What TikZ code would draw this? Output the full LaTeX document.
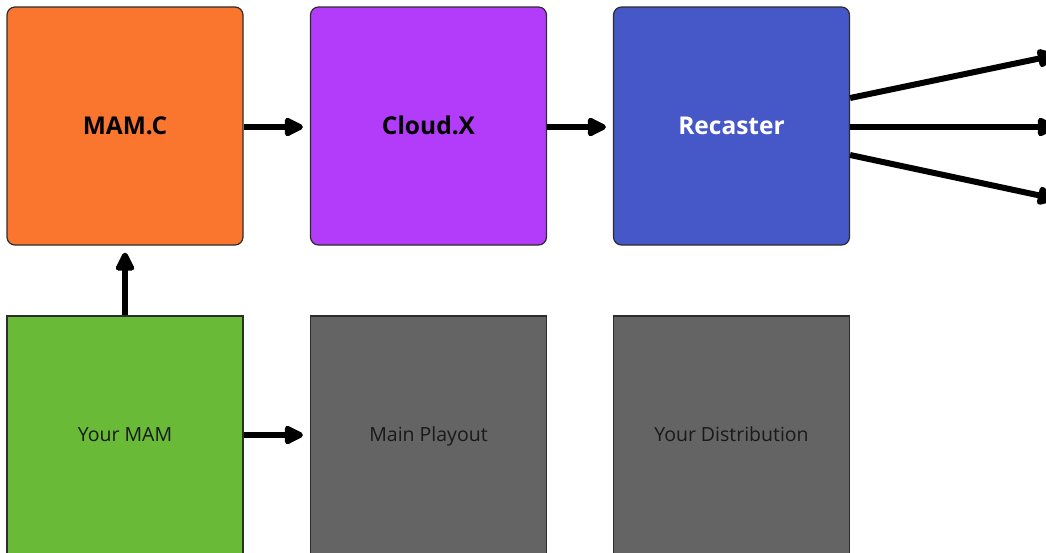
\documentclass[tikz,border=0pt]{standalone}
\usepackage{fontspec}
\setmainfont{Open Sans}
\usetikzlibrary{arrows.meta}
\definecolor{cOrange}{RGB}{250,118,46}
\definecolor{cPurple}{RGB}{178,60,250}
\definecolor{cBlue}{RGB}{70,87,200}
\definecolor{cGreen}{RGB}{105,187,55}
\definecolor{cGray}{RGB}{100,100,100}
\definecolor{cEdge}{RGB}{45,45,45}
\tikzset{
  box/.style={draw=cEdge, line width=1.2pt, minimum width=236pt, minimum height=238pt, inner sep=0pt, text depth=0pt},
  topbox/.style={box, rounded corners=8pt, font=\fontsize{24.5}{28}\selectfont\bfseries, text height=17.5pt},
  botbox/.style={box, font=\fontsize{19.5}{23}\selectfont, text=black!90, text height=13.9pt},
  arr/.style={line width=6pt, -{Triangle[length=22pt,width=20pt,round]}, shorten >=7pt},
  fan/.style={line width=6pt, -{Triangle[length=22pt,width=20pt,round]}}
}
\begin{document}
\begin{tikzpicture}[x=1pt,y=-1pt]
\useasboundingbox (0,0) rectangle (1046,552);
\clip (0,0) rectangle (1046,552);
\fill[white] (0,0) rectangle (1046,552);
\node[topbox, fill=cOrange] (mamc) at (125,126) {MAM.C};
\node[topbox, fill=cPurple] (cloudx) at (428.5,126) {Cloud.X};
\node[topbox, fill=cBlue, text=white] (recaster) at (731.5,126) {Recaster};
\node[botbox, fill=cGreen] (yourmam) at (125,435) {Your MAM};
\node[botbox, fill=cGray] (playout) at (428.5,435) {Main Playout};
\node[botbox, fill=cGray] (dist) at (731.5,435) {Your Distribution};
\coordinate (o1) at (1056,55);
\coordinate (o2) at (1056,127);
\coordinate (o3) at (1056,199);
\draw[arr] ([yshift=-1pt]mamc.east) -- ([yshift=-1pt]cloudx.west);
\draw[arr] ([yshift=-1pt]cloudx.east) -- ([yshift=-1pt]recaster.west);
\draw[arr] (yourmam.north) -- (mamc.south);
\draw[arr] (yourmam.east) -- (playout.west);
\draw[fan] ([yshift=28pt]recaster.east) -- (o1);
\draw[fan] ([yshift=-1pt]recaster.east) -- (o2);
\draw[fan] ([yshift=-29pt]recaster.east) -- (o3);
\end{tikzpicture}
\end{document}
